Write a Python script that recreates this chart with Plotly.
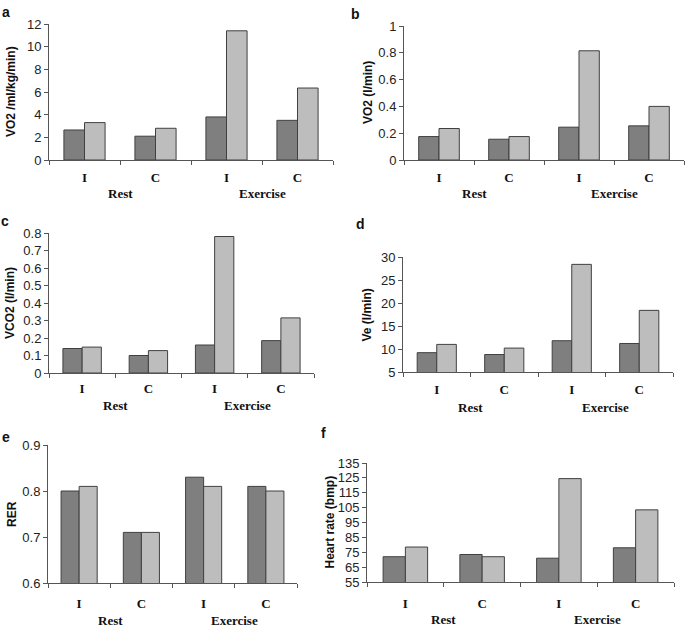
import plotly.graph_objects as go

W, H = 685, 627

categories = ["I", "C", "I", "C"]
groups = ["Rest", "Exercise"]

a_dark = [2.65, 2.1, 3.8, 3.5]
a_light = [3.3, 2.8, 11.4, 6.35]
b_dark = [0.175, 0.155, 0.245, 0.255]
b_light = [0.235, 0.175, 0.815, 0.40]
c_dark = [0.14, 0.10, 0.16, 0.185]
c_light = [0.148, 0.128, 0.78, 0.315]
d_dark = [9.2, 8.8, 11.8, 11.2]
d_light = [11.0, 10.2, 28.4, 18.4]
e_dark = [0.80, 0.71, 0.83, 0.81]
e_light = [0.81, 0.71, 0.81, 0.80]
f_dark = [72, 73.5, 71, 78]
f_light = [78.5, 72, 124.5, 103.5]

y_titles = ["VO2 /ml/kg/min)", "VO2 (l/min)", "VCO2 (l/min)", "Ve (l/min)", "RER", "Heart rate (bmp)"]
letters = ["a", "b", "c", "d", "e", "f"]
y_ranges = [[0, 12], [0, 1], [0, 0.8], [5, 30], [0.6, 0.9], [55, 135]]
y_dticks = [2, 0.2, 0.1, 5, 0.1, 10]
dark_series = [a_dark, b_dark, c_dark, d_dark, e_dark, f_dark]
light_series = [a_light, b_light, c_light, d_light, e_light, f_light]

# layout in pixels: (x0, x1), (ytop, ybottom), y-title x, letter (x, y),
# category-label offset, group-label offset
boxes = [
    ((49, 333), (24, 160), 11, (6, 12), 17, 33),
    ((404, 684), (26, 160), 368, (355, 14), 17, 33),
    ((49, 314), (233, 373), 10, (5, 221), 15, 32),
    ((403, 673), (257, 372), 366, (361, 224), 17, 35),
    ((48, 297), (445, 583), 12, (6, 437), 20, 37),
    ((367, 674), (463, 582), 329, (323, 433), 21, 37),
]

DARK = "#7f7f7f"
LIGHT = "#bdbdbd"
EDGE = "#404040"
AXIS = "#555555"

def px_x(p):
    return p / W

def px_y(p):
    return 1 - p / H

fig = go.Figure()
xpos = list(range(len(categories)))
annotations = []

for i in range(6):
    (x0, x1), (yt, yb), tx, (lx, ly), coff, goff = boxes[i]
    sfx = "" if i == 0 else str(i + 1)
    xa, ya = "x" + sfx, "y" + sfx
    for vals, col in ((dark_series[i], DARK), (light_series[i], LIGHT)):
        fig.add_trace(go.Bar(
            x=xpos, y=vals, xaxis=xa, yaxis=ya,
            marker=dict(color=col, line=dict(color=EDGE, width=1)),
            showlegend=False, hoverinfo="y",
        ))
    fig.layout["xaxis" + sfx] = dict(
        domain=[px_x(x0), px_x(x1)], anchor=ya,
        range=[-0.5, len(categories) - 0.5],
        tickvals=xpos, ticktext=["<b>%s</b>" % c for c in categories], ticks="",
        ticklabelstandoff=coff - 12,
        tickfont=dict(family="Liberation Serif", size=13, color="#111"),
        showline=True, linecolor=AXIS, linewidth=1,
        showgrid=False, zeroline=False, fixedrange=True, automargin=False,
        minor=dict(tickvals=[k - 0.5 for k in range(len(categories) + 1)],
                   ticks="outside", ticklen=4, tickcolor=AXIS, showgrid=False),
    )
    fig.layout["yaxis" + sfx] = dict(
        domain=[px_y(yb), px_y(yt)], anchor=xa,
        range=y_ranges[i], dtick=y_dticks[i], tick0=y_ranges[i][0],
        ticks="outside", ticklen=4, tickcolor=AXIS,
        tickfont=dict(family="Liberation Sans", size=13, color="#222"),
        showline=True, linecolor=AXIS, linewidth=1,
        showgrid=False, zeroline=False, fixedrange=True, automargin=False,
    )
    # y title
    annotations.append(dict(
        text="<b>%s</b>" % y_titles[i], xref="paper", yref="paper",
        x=px_x(tx), y=px_y((yt + yb) / 2), textangle=-90,
        showarrow=False, xanchor="center", yanchor="middle",
        font=dict(family="Liberation Sans", size=12, color="#111"),
    ))
    # panel letter
    annotations.append(dict(
        text="<b>%s</b>" % letters[i], xref="paper", yref="paper",
        x=px_x(lx), y=px_y(ly), showarrow=False,
        xanchor="center", yanchor="middle",
        font=dict(family="Liberation Sans", size=14, color="#111"),
    ))
    # group labels
    for g, gx in zip(groups, [0.5, 2.5]):
        annotations.append(dict(
            text="<b>%s</b>" % g, xref=xa, yref="paper",
            x=gx, y=px_y(yb + goff), showarrow=False,
            xanchor="center", yanchor="middle",
            font=dict(family="Liberation Serif", size=13, color="#111"),
        ))

fig.update_layout(
    template="none",
    width=W, height=H,
    margin=dict(l=0, r=0, t=0, b=0),
    paper_bgcolor="white", plot_bgcolor="white",
    barmode="group", bargap=0.42, bargroupgap=0,
    annotations=annotations,
)

fig.write_html(
    "out.html",
    config={"displayModeBar": False},
    post_script="document.body.style.margin='0';document.body.style.overflow='hidden';",
)
